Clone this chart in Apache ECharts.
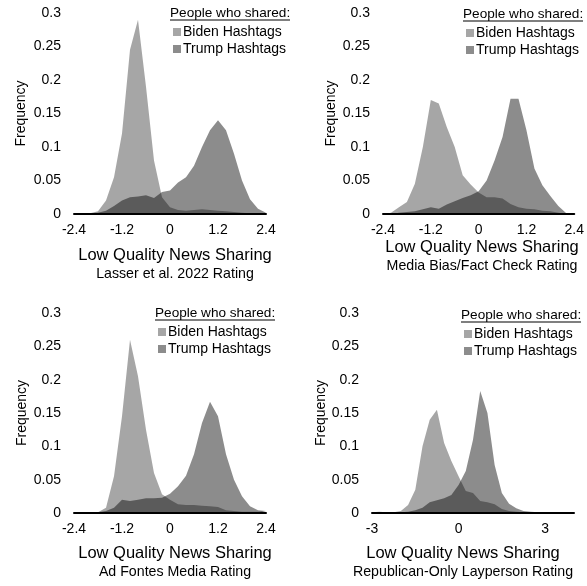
<!DOCTYPE html>
<html>
<head>
<meta charset="utf-8">
<script src="https://cdn.jsdelivr.net/npm/echarts@6/dist/echarts.min.js"></script>
<style>
  html, body { margin: 0; padding: 0; background: #fff; }
  #chart { width: 587px; height: 586px; }
</style>
</head>
<body>
<div id="chart"></div>
<script>
// x positions of the bins (rating scales)
const ratingX = [-2.4, -2.2, -2.0, -1.8, -1.6, -1.4, -1.2, -1.0, -0.8, -0.6, -0.4, -0.2, 0,
                 0.2, 0.4, 0.6, 0.8, 1.0, 1.2, 1.4, 1.6, 1.8, 2.0, 2.2, 2.4];
const laypersonX = [-3, -2.75, -2.5, -2.25, -2, -1.75, -1.5, -1.25, -1, -0.75, -0.5, -0.25, 0,
                    0.25, 0.5, 0.75, 1, 1.25, 1.5, 1.75, 2, 2.25, 2.5, 2.75, 3, 3.25, 3.5, 3.75, 4];

// Lasser et al. 2022
const bidenLasser = [0, 0, 0.001, 0.004, 0.02, 0.055, 0.12, 0.245, 0.29, 0.19, 0.08, 0.025, 0.01,
                     0.006, 0.005, 0.006, 0.007, 0.006, 0.005, 0.004, 0.003, 0.002, 0.001, 0.001, 0];
const trumpLasser = [0, 0, 0.001, 0.002, 0.005, 0.012, 0.02, 0.025, 0.026, 0.028, 0.024, 0.033, 0.035,
                     0.047, 0.055, 0.072, 0.1, 0.125, 0.14, 0.125, 0.09, 0.05, 0.022, 0.008, 0.002];

// Media Bias/Fact Check
const bidenMBFC = [0, 0.002, 0.01, 0.018, 0.045, 0.1, 0.17, 0.165, 0.13, 0.1, 0.058, 0.044, 0.032,
                   0.025, 0.025, 0.023, 0.015, 0.01, 0.008, 0.007, 0.005, 0.004, 0.002, 0, 0];
const trumpMBFC = [0, 0, 0.002, 0.003, 0.004, 0.007, 0.01, 0.008, 0.014, 0.019, 0.024, 0.028, 0.034,
                   0.05, 0.08, 0.115, 0.172, 0.172, 0.125, 0.068, 0.043, 0.027, 0.012, 0.001, 0];

// Ad Fontes Media
const bidenAdFontes = [0, 0, 0, 0.001, 0.008, 0.055, 0.145, 0.26, 0.205, 0.125, 0.06, 0.028, 0.02,
                       0.013, 0.012, 0.012, 0.011, 0.01, 0.009, 0.004, 0.003, 0.002, 0.002, 0.002, 0.003];
const trumpAdFontes = [0, 0, 0, 0.001, 0.003, 0.008, 0.02, 0.018, 0.02, 0.022, 0.022, 0.023, 0.029,
                       0.04, 0.056, 0.088, 0.135, 0.167, 0.145, 0.088, 0.05, 0.025, 0.01, 0.004, 0.003];

// Republican-only layperson
const bidenLayperson = [0.001, 0.002, 0.001, 0.001, 0.003, 0.012, 0.035, 0.1, 0.14, 0.155, 0.105, 0.078, 0.055,
                        0.033, 0.03, 0.018, 0.016, 0.013, 0.006, 0.003, 0.002, 0.001, 0.001, 0, 0, 0, 0, 0, 0];
const trumpLayperson = [0, 0, 0, 0, 0.001, 0.002, 0.004, 0.008, 0.016, 0.019, 0.022, 0.027, 0.042,
                        0.063, 0.11, 0.183, 0.15, 0.072, 0.03, 0.014, 0.007, 0.003, 0.002, 0.001, 0, 0, 0, 0, 0];

const subtitles = ['Lasser et al. 2022 Rating', 'Media Bias/Fact Check Rating',
                   'Ad Fontes Media Rating', 'Republican-Only Layperson Rating'];
const legendHeader = 'People who shared:';
const seriesNames = ['Biden Hashtags', 'Trump Hashtags'];

const FONT = '"Liberation Sans", Arial, sans-serif';
const BIDEN = 'rgba(0,0,0,0.35)';
const TRUMP = 'rgba(0,0,0,0.45)';

function pairs(xs, ys) {
    return xs.map((x, i) => [x, ys[i]]);
}

// panel layout
const panels = [
    {grid: {left: 74, top: 13, width: 192, height: 201}, x: ratingX, b: bidenLasser, t: trumpLasser,
     min: -2.4, max: 2.4, step: 1.2, nameGap: 46, legend: [168, 23], title: [175, 255]},
    {grid: {left: 383, top: 13, width: 196, height: 201}, x: ratingX, b: bidenMBFC, t: trumpMBFC,
     min: -2.4, max: 2.4, step: 1.2, nameGap: 45, legend: [461, 24], title: [482, 247]},
    {grid: {left: 74, top: 313, width: 192, height: 200}, x: ratingX, b: bidenAdFontes, t: trumpAdFontes,
     min: -2.4, max: 2.4, step: 1.2, nameGap: 45, legend: [153, 323], title: [175, 553]},
    {grid: {left: 372, top: 313, width: 202, height: 200}, x: laypersonX, b: bidenLayperson, t: trumpLayperson,
     min: -3, max: 4, step: 3, nameGap: 43, legend: [459, 325], title: [463, 553]}
];

const grid = [], xAxis = [], yAxis = [], series = [], legend = [], graphic = [];

panels.forEach((p, i) => {
    grid.push(p.grid);
    xAxis.push({
        type: 'value', gridIndex: i, min: p.min, max: p.max, interval: p.step, z: 5,
        axisLine: {lineStyle: {color: '#000', width: 2}},
        axisTick: {show: false},
        splitLine: {show: false},
        axisLabel: {
            color: '#000', fontSize: 14, fontFamily: FONT, margin: 9,
            formatter: v => (v > p.max - 1e-9 && p.max === 4) ? '' : String(v)
        }
    });
    yAxis.push({
        type: 'value', gridIndex: i, min: 0, max: 0.3, interval: 0.05,
        name: 'Frequency', nameLocation: 'middle', nameGap: p.nameGap, nameRotate: 90,
        nameTextStyle: {color: '#000', fontSize: 14, fontFamily: FONT},
        axisLine: {show: false},
        axisTick: {show: false},
        splitLine: {show: false},
        axisLabel: {color: '#000', fontSize: 14, fontFamily: FONT, margin: 13}
    });
    series.push({
        name: seriesNames[0], type: 'line', xAxisIndex: i, yAxisIndex: i,
        data: pairs(p.x, p.b), showSymbol: false, symbol: 'none',
        lineStyle: {width: 0}, itemStyle: {color: BIDEN},
        areaStyle: {color: BIDEN, opacity: 1}
    });
    series.push({
        name: seriesNames[1], type: 'line', xAxisIndex: i, yAxisIndex: i,
        data: pairs(p.x, p.t), showSymbol: false, symbol: 'none',
        lineStyle: {width: 0}, itemStyle: {color: TRUMP},
        areaStyle: {color: TRUMP, opacity: 1}
    });
    legend.push({
        data: seriesNames, orient: 'vertical', left: p.legend[0], top: p.legend[1] - 3,
        icon: 'rect', itemWidth: 8, itemHeight: 8, itemGap: 3,
        textStyle: {color: '#000', fontSize: 14, fontFamily: FONT, padding: [0, 0, 0, -3]},
        selectedMode: false
    });
    // legend header with underline
    graphic.push({
        type: 'text', x: p.legend[0] + 2, y: p.legend[1] - 10,
        style: {text: legendHeader, font: '13.6px ' + FONT, fill: '#000',
                textAlign: 'left', textVerticalAlign: 'middle'}
    });
    graphic.push({
        type: 'line', shape: {x1: p.legend[0] + 2, y1: p.legend[1] - 3, x2: p.legend[0] + 122, y2: p.legend[1] - 3},
        style: {stroke: '#000', lineWidth: 1.2}
    });
    // x axis title + rating subtitle
    graphic.push({
        type: 'text', x: p.title[0], y: p.title[1],
        style: {text: 'Low Quality News Sharing', font: '16.5px ' + FONT, fill: '#000',
                textAlign: 'center', textVerticalAlign: 'middle'}
    });
    graphic.push({
        type: 'text', x: p.title[0], y: p.title[1] + 19,
        style: {text: subtitles[i], font: '14.2px ' + FONT, fill: '#000',
                textAlign: 'center', textVerticalAlign: 'middle'}
    });
});

let myChart = echarts.init(document.getElementById('chart'));
myChart.setOption({
    animation: false,
    backgroundColor: '#fff',
    grid: grid,
    xAxis: xAxis,
    yAxis: yAxis,
    legend: legend,
    graphic: graphic,
    series: series
});
</script>
</body>
</html>
